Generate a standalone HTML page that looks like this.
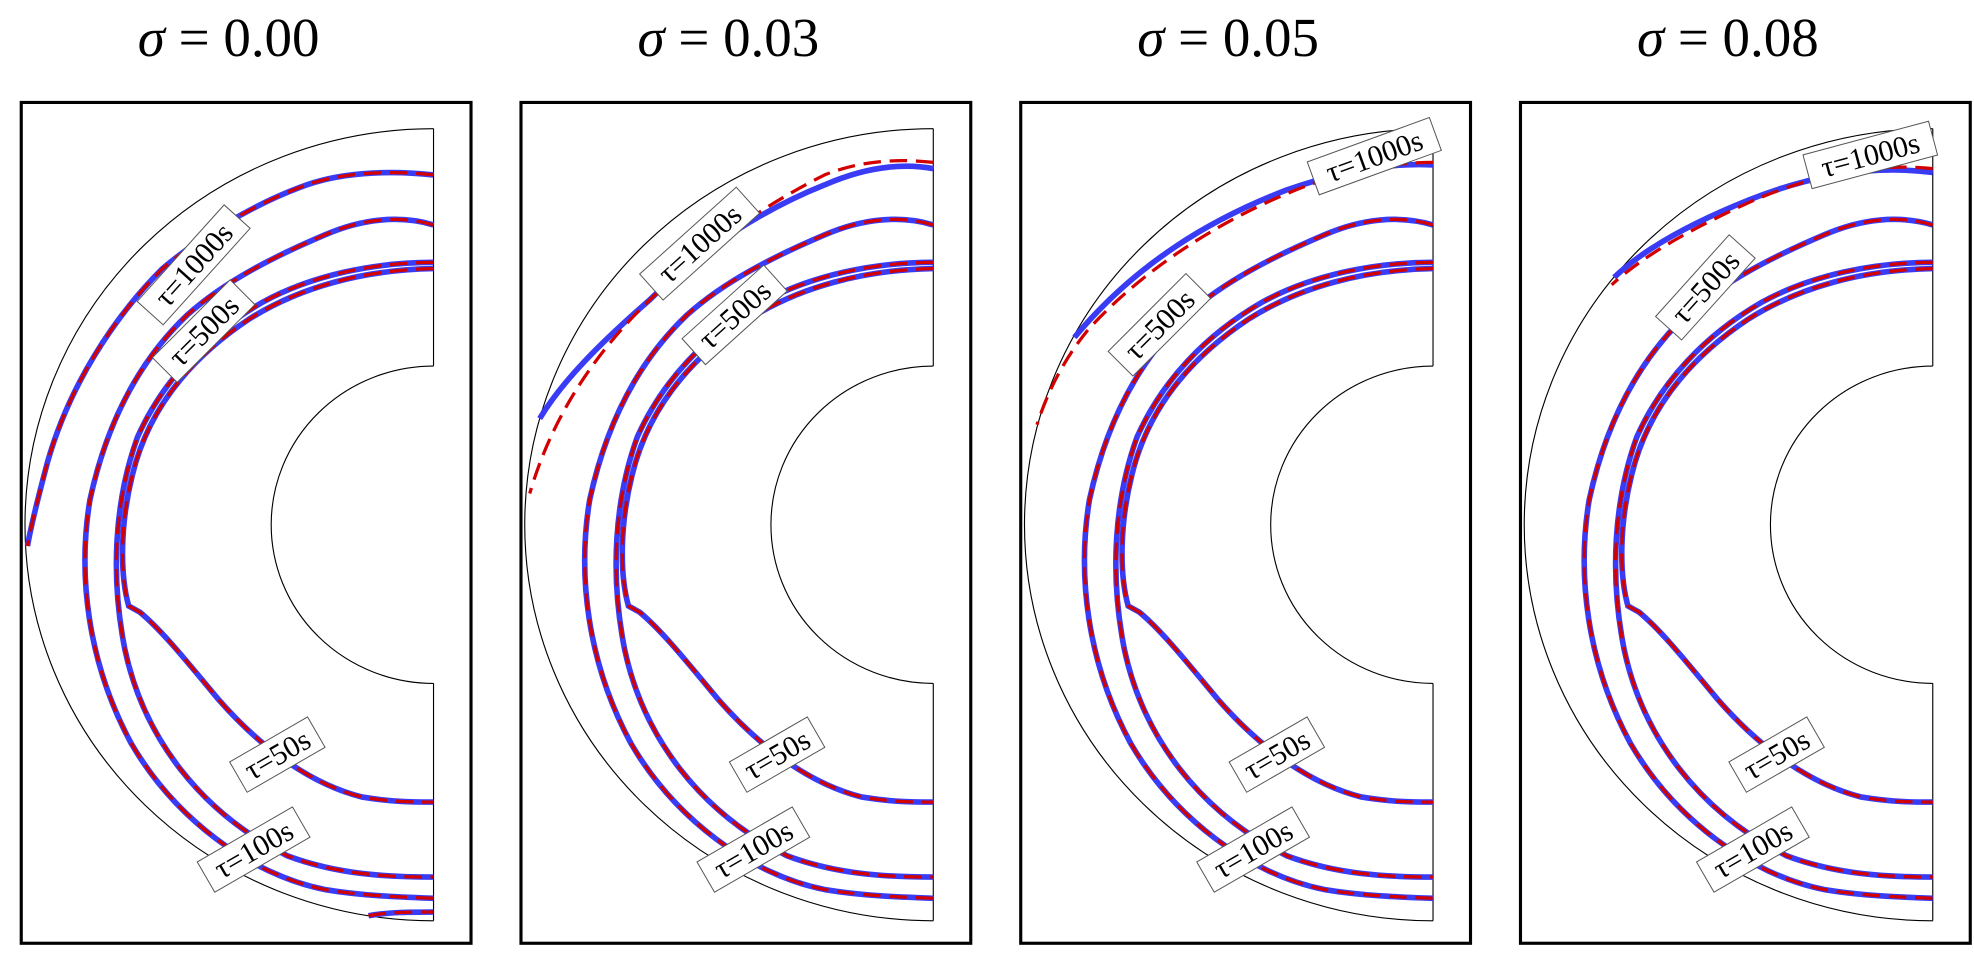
<!DOCTYPE html>
<html><head><meta charset="utf-8"><style>
html,body{margin:0;padding:0;background:#fff;}
svg{display:block;}
.t{font-family:"Liberation Serif",serif;font-size:44px;fill:#000;}
.l{font-family:"Liberation Serif",serif;font-size:24px;fill:#000;}
</style></head><body>
<svg width="1974" height="967" viewBox="0 0 1580 774" preserveAspectRatio="none" xmlns="http://www.w3.org/2000/svg">
<defs>
<g id="geom">
<rect x="17" y="82" width="360" height="673" fill="#fff" stroke="#000" stroke-width="2.5"/>
<path d="M347 103 A327 317 0 0 0 347 737" fill="none" stroke="#000" stroke-width="0.9"/>
<path d="M347 293 A130 127 0 0 0 347 547" fill="none" stroke="#000" stroke-width="0.9"/>
<line x1="347" y1="103" x2="347" y2="293" stroke="#000" stroke-width="0.9"/>
<line x1="347" y1="547" x2="347" y2="737" stroke="#000" stroke-width="0.9"/>
</g>
<path id="c500" d="M347 180 C320 172 290 175 260 188 C220 205 180 225 150 252 C110 290 85 340 72 400 C62 460 70 530 105 595 C140 655 200 700 260 712 C290 717 320 718 347 719"/>
<path id="c100" d="M347 210 C300 210 250 220 210 242 C165 268 130 305 110 350 C92 400 88 460 100 520 C115 590 160 650 230 685 C270 700 310 702 347 702"/>
<path id="c50" d="M347 215 C290 216 240 230 200 255 C150 288 118 330 106 380 C96 420 96 460 103 485 L112 490 C130 505 150 530 175 560 C210 600 250 628 290 638 C315 642 330 642 347 642"/>
</defs>

<text class="t" x="183" y="45" text-anchor="middle"><tspan font-style="italic">σ</tspan> = 0.00</text>
<text class="t" x="583" y="45" text-anchor="middle"><tspan font-style="italic">σ</tspan> = 0.03</text>
<text class="t" x="983" y="45" text-anchor="middle"><tspan font-style="italic">σ</tspan> = 0.05</text>
<text class="t" x="1383" y="45" text-anchor="middle"><tspan font-style="italic">σ</tspan> = 0.08</text>

<!-- Panel 1 -->
<g transform="translate(0,0)">
<use href="#geom"/>
<g fill="none" stroke="#3a3cf5" stroke-width="4.5">
<path d="M347 140 C310 136 270 138 240 150 C200 165 160 190 130 215 C90 255 55 310 38 370 C30 400 25 420 22 437"/>
<path d="M295 733 C310 730 330 730 347 730"/>
<use href="#c500"/><use href="#c100"/><use href="#c50"/>
</g>
<g fill="none" stroke="#d20000" stroke-width="2.6" stroke-dasharray="14 7">
<path d="M347 140 C310 136 270 138 240 150 C200 165 160 190 130 215 C90 255 55 310 38 370 C30 400 25 420 22 437"/>
<path d="M295 733 C310 730 330 730 347 730"/>
<use href="#c500"/><use href="#c100"/><use href="#c50"/>
</g>
<g transform="translate(155,212) rotate(-48)"><rect x="-52" y="-14" width="104" height="28" fill="#fff" stroke="#555" stroke-width="0.8"/><text class="l" text-anchor="middle" y="8">τ=1000s</text></g>
<g transform="translate(163,265) rotate(-45)"><rect x="-44" y="-14" width="88" height="28" fill="#fff" stroke="#555" stroke-width="0.8"/><text class="l" text-anchor="middle" y="8">τ=500s</text></g>
<g transform="translate(222,604) rotate(-30)"><rect x="-36" y="-14" width="72" height="28" fill="#fff" stroke="#555" stroke-width="0.8"/><text class="l" text-anchor="middle" y="8">τ=50s</text></g>
<g transform="translate(203,680) rotate(-30)"><rect x="-44" y="-14" width="88" height="28" fill="#fff" stroke="#555" stroke-width="0.8"/><text class="l" text-anchor="middle" y="8">τ=100s</text></g>
</g>

<!-- Panel 2 -->
<g transform="translate(400,0)">
<use href="#geom"/>
<g fill="none" stroke="#3a3cf5" stroke-width="4.5">
<path d="M347 135 C320 130 290 135 260 148 C210 168 160 200 120 240 C80 275 50 305 32 335"/>
<use href="#c500"/><use href="#c100"/><use href="#c50"/>
</g>
<g fill="none" stroke="#d20000" stroke-width="2.6" stroke-dasharray="14 7">
<path d="M347 130 C320 127 290 128 260 140 C210 165 160 200 115 245 C70 290 40 340 24 395"/>
<use href="#c500"/><use href="#c100"/><use href="#c50"/>
</g>
<g transform="translate(160,195) rotate(-42)"><rect x="-52" y="-14" width="104" height="28" fill="#fff" stroke="#555" stroke-width="0.8"/><text class="l" text-anchor="middle" y="8">τ=1000s</text></g>
<g transform="translate(188,252) rotate(-42)"><rect x="-44" y="-14" width="88" height="28" fill="#fff" stroke="#555" stroke-width="0.8"/><text class="l" text-anchor="middle" y="8">τ=500s</text></g>
<g transform="translate(222,604) rotate(-30)"><rect x="-36" y="-14" width="72" height="28" fill="#fff" stroke="#555" stroke-width="0.8"/><text class="l" text-anchor="middle" y="8">τ=50s</text></g>
<g transform="translate(203,680) rotate(-30)"><rect x="-44" y="-14" width="88" height="28" fill="#fff" stroke="#555" stroke-width="0.8"/><text class="l" text-anchor="middle" y="8">τ=100s</text></g>
</g>

<!-- Panel 3 -->
<g transform="translate(800,0)">
<use href="#geom"/>
<g fill="none" stroke="#3a3cf5" stroke-width="4.5">
<path d="M347 132 C310 130 270 138 230 152 C170 175 110 210 60 270"/>
<use href="#c500"/><use href="#c100"/><use href="#c50"/>
</g>
<g fill="none" stroke="#d20000" stroke-width="2.6" stroke-dasharray="14 7">
<path d="M347 130 C310 130 270 138 230 155 C170 180 110 220 70 265 C50 290 38 315 30 340"/>
<use href="#c500"/><use href="#c100"/><use href="#c50"/>
</g>
<g transform="translate(300,125) rotate(-20)"><rect x="-52" y="-14" width="104" height="28" fill="#fff" stroke="#555" stroke-width="0.8"/><text class="l" text-anchor="middle" y="8">τ=1000s</text></g>
<g transform="translate(128,260) rotate(-45)"><rect x="-44" y="-14" width="88" height="28" fill="#fff" stroke="#555" stroke-width="0.8"/><text class="l" text-anchor="middle" y="8">τ=500s</text></g>
<g transform="translate(222,604) rotate(-30)"><rect x="-36" y="-14" width="72" height="28" fill="#fff" stroke="#555" stroke-width="0.8"/><text class="l" text-anchor="middle" y="8">τ=50s</text></g>
<g transform="translate(203,680) rotate(-30)"><rect x="-44" y="-14" width="88" height="28" fill="#fff" stroke="#555" stroke-width="0.8"/><text class="l" text-anchor="middle" y="8">τ=100s</text></g>
</g>

<!-- Panel 4 -->
<g transform="translate(1200,0)">
<use href="#geom"/>
<g fill="none" stroke="#3a3cf5" stroke-width="4.5">
<path d="M347 138 C300 132 250 140 200 160 C150 180 115 200 92 222"/>
<use href="#c500"/><use href="#c100"/><use href="#c50"/>
</g>
<g fill="none" stroke="#d20000" stroke-width="2.6" stroke-dasharray="14 7">
<path d="M347 135 C300 130 250 140 200 162 C150 185 115 205 90 228"/>
<use href="#c500"/><use href="#c100"/><use href="#c50"/>
</g>
<g transform="translate(297,124) rotate(-15)"><rect x="-52" y="-14" width="104" height="28" fill="#fff" stroke="#555" stroke-width="0.8"/><text class="l" text-anchor="middle" y="8">τ=1000s</text></g>
<g transform="translate(165,230) rotate(-48)"><rect x="-44" y="-14" width="88" height="28" fill="#fff" stroke="#555" stroke-width="0.8"/><text class="l" text-anchor="middle" y="8">τ=500s</text></g>
<g transform="translate(222,604) rotate(-30)"><rect x="-36" y="-14" width="72" height="28" fill="#fff" stroke="#555" stroke-width="0.8"/><text class="l" text-anchor="middle" y="8">τ=50s</text></g>
<g transform="translate(203,680) rotate(-30)"><rect x="-44" y="-14" width="88" height="28" fill="#fff" stroke="#555" stroke-width="0.8"/><text class="l" text-anchor="middle" y="8">τ=100s</text></g>
</g>
</svg>
</body></html>
